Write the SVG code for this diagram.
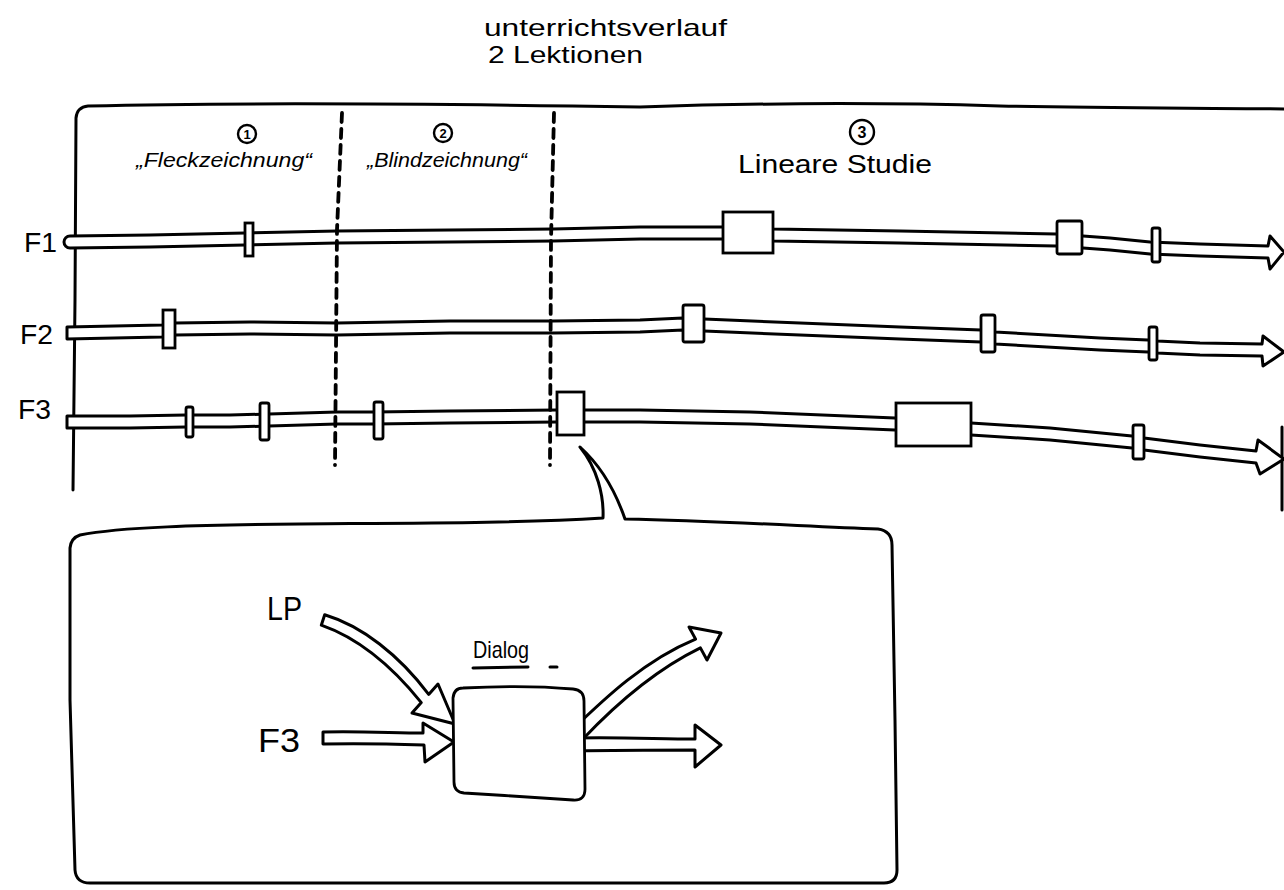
<svg xmlns="http://www.w3.org/2000/svg" width="1284" height="890" viewBox="0 0 1284 890">
<style>
.ln{fill:none;stroke:#000;stroke-width:3;stroke-linecap:round;stroke-linejoin:round}
.tube{fill:#fff;stroke:#000;stroke-width:3;stroke-linejoin:round}
.box{fill:#fff;stroke:#000;stroke-width:2.8}
.dash{fill:none;stroke:#000;stroke-width:3.8;stroke-dasharray:9 7;stroke-linecap:round}
.circ{fill:none;stroke:#000;stroke-width:2.4}
.t{font-family:"Liberation Sans","DejaVu Sans",sans-serif;fill:#000}
.lab{font-family:"Liberation Sans","DejaVu Sans",sans-serif;fill:#000;font-size:20px;font-style:italic}
</style>
<rect width="1284" height="890" fill="#fff"/>

<g id="title">
<text class="t" x="484" y="36" font-size="24" textLength="243" lengthAdjust="spacingAndGlyphs">unterrichtsverlauf</text>
<text class="t" x="488" y="63" font-size="24" textLength="155" lengthAdjust="spacingAndGlyphs">2 Lektionen</text>
</g>

<g id="frame">
<path class="ln" d="M 73 490 L 75 300 L 76 118 Q 77 107 88 106 C 250 102, 450 104, 640 107 C 760 103, 900 103, 1000 106 C 1100 108, 1200 108, 1284 109"/>
<path class="ln" d="M 1282 427 L 1282 510"/>
</g>

<g id="phase1">
<circle class="circ" cx="247" cy="134" r="9"/>
<text class="t" x="247" y="139" font-size="13" font-weight="bold" text-anchor="middle">1</text>
<text class="lab" x="136" y="167" textLength="176" lengthAdjust="spacingAndGlyphs">„Fleckzeichnung“</text>
</g>
<g id="phase2">
<circle class="circ" cx="443" cy="133" r="9"/>
<text class="t" x="443" y="138" font-size="13" font-weight="bold" text-anchor="middle">2</text>
<text class="lab" x="367" y="167" textLength="160" lengthAdjust="spacingAndGlyphs">„Blindzeichnung“</text>
</g>
<g id="phase3">
<circle class="circ" cx="862" cy="132" r="12"/>
<text class="t" x="862" y="138" font-size="16" font-weight="bold" text-anchor="middle">3</text>
<text class="t" x="738" y="173" font-size="25" textLength="194" lengthAdjust="spacingAndGlyphs">Lineare Studie</text>
</g>

<g id="labels">
<text class="t" x="24" y="252" font-size="28" textLength="33" lengthAdjust="spacingAndGlyphs">F1</text>
<text class="t" x="20" y="344" font-size="28" textLength="33" lengthAdjust="spacingAndGlyphs">F2</text>
<text class="t" x="18" y="419" font-size="28" textLength="33" lengthAdjust="spacingAndGlyphs">F3</text>
</g>

<g id="connectors">
<path id="tube-F1" class="tube" d="M 70 236 L 150 235 L 245 233 L 337 231 L 450 230 L 553 229 L 640 227 L 723 227 L 773 229 L 900 231 L 1056 234 L 1083 236 L 1110 238 L 1150 242 L 1200 244 L 1268 246 L 1270 236 L 1284 252 L 1270 269 L 1268 258 L 1200 256 L 1150 254 L 1110 250 L 1083 248 L 1056 246 L 900 243 L 773 241 L 723 239 L 640 239 L 553 241 L 450 242 L 337 243 L 245 245 L 150 247 L 70 248 A 6 6 0 0 1 70 236 Z"/>
<path id="tube-F2" class="tube" d="M 67 327 L 162 325 L 175 323 L 250 322 L 337 323 L 450 321 L 553 321 L 640 320 L 683 318 L 704 319 L 800 323 L 900 327 L 981 330 L 995 332 L 1100 338 L 1148 340 L 1157 341 L 1200 343 L 1262 344 L 1263 336 L 1284 352 L 1263 366 L 1262 356 L 1200 355 L 1157 353 L 1148 352 L 1100 350 L 995 344 L 981 342 L 900 339 L 800 335 L 704 331 L 683 330 L 640 332 L 553 333 L 450 333 L 337 335 L 250 334 L 175 335 L 162 337 L 67 339 Z"/>
<path id="tube-F3" class="tube" d="M 67 416 L 130 416 L 186 415 L 230 415 L 269 414 L 337 412 L 374 412 L 450 411 L 557 410 L 640 410 L 750 412 L 895 418 L 971 423 L 1050 428 L 1132 436 L 1144 438 L 1200 445 L 1256 451 L 1258 440 L 1284 459 L 1260 474 L 1256 463 L 1200 457 L 1144 450 L 1132 448 L 1050 440 L 971 435 L 895 430 L 750 424 L 640 422 L 557 422 L 450 423 L 374 424 L 337 424 L 269 426 L 230 427 L 186 427 L 130 428 L 67 428 Z"/>
<path class="dash" d="M 342 113 L 337 230 L 335 465"/>
<path class="dash" d="M 554 113 L 551 240 L 550 465"/>
</g>

<g id="events-F1">
<rect class="box" x="245" y="223" width="8" height="33"/>
<rect class="box" x="723" y="212" width="50" height="41"/>
<rect class="box" x="1057" y="221" width="25" height="33" rx="2"/>
<rect class="box" x="1152" y="228" width="8" height="34" rx="2"/>
</g>
<g id="events-F2">
<rect class="box" x="163" y="310" width="12" height="38"/>
<rect class="box" x="683" y="305" width="21" height="37" rx="2"/>
<rect class="box" x="981" y="315" width="14" height="37" rx="2"/>
<rect class="box" x="1149" y="327" width="8" height="33" rx="2"/>
</g>
<g id="events-F3">
<rect class="box" x="186" y="407" width="7" height="30" rx="2"/>
<rect class="box" x="260" y="403" width="9" height="37" rx="2"/>
<rect class="box" x="374" y="402" width="9" height="37" rx="2"/>
<rect class="box" x="557" y="392" width="27" height="43"/>
<rect class="box" x="896" y="403" width="75" height="43"/>
<rect class="box" x="1133" y="425" width="11" height="34" rx="2"/>
</g>

<g id="callout">
<path class="ln" d="M 70 548 Q 71 538 80 535 C 120 527, 200 525, 300 524 C 420 523, 520 523, 603 518 C 604 495, 597 468, 580 447 C 600 465, 615 490, 625 519 C 720 521, 800 526, 878 529 Q 892 531 892 545 L 895 720 L 897 870 Q 897 883 884 883 L 90 883 Q 76 883 75 870 L 70 700 Z"/>
</g>

<g id="callout-connectors">
<path class="tube" d="M 324.7 614.8 C 362 626, 399 655, 428.7 694.4 L 438 684 L 455 724 L 412 713 L 421.3 702.6 C 391 665, 358 638, 321.3 625.2 Z"/>
<path class="tube" d="M 323 732 C 360 731, 395 733, 423 733 L 423 723 L 454 742 L 425 762 L 424 745 C 395 744, 360 743, 323 744 Z"/>
<path class="tube" d="M 572 730 C 605 698, 645 660, 695.6 639.1 L 689 627 L 721 633 L 707 660 L 700.4 647.9 C 655 670, 615 705, 582 740 Z"/>
<path class="tube" d="M 575 738 C 620 737, 660 739, 695 739 L 695 725 L 721 745 L 695 767 L 695 750 C 660 750, 620 750, 575 751 Z"/>
</g>

<g id="dialog">
<path class="box" d="M 463 688 C 500 686, 540 686, 573 689 Q 584 690 584 701 L 585 789 Q 585 801 573 800 C 540 798, 500 795, 464 793 Q 454 792 454 782 L 453 698 Q 454 688 463 688 Z"/>
<text class="t" x="473" y="658" font-size="24" textLength="56" lengthAdjust="spacingAndGlyphs">Dialog</text>
<path class="ln" d="M 473 668 L 528 667 M 550 667 L 557 667"/>
</g>

<g id="callout-labels">
<text class="t" x="267" y="620" font-size="34" textLength="35" lengthAdjust="spacingAndGlyphs">LP</text>
<text class="t" x="258" y="752" font-size="33" textLength="42" lengthAdjust="spacingAndGlyphs">F3</text>
</g>
</svg>
